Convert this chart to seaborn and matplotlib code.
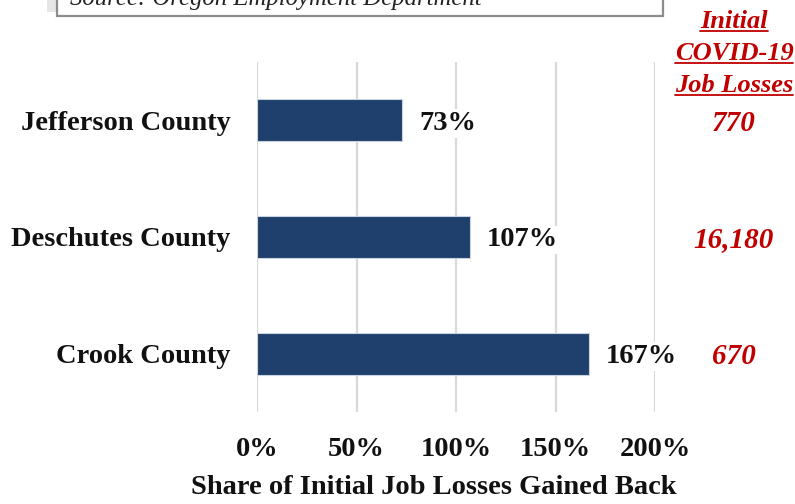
import matplotlib
matplotlib.use("Agg")
import matplotlib.pyplot as plt
import seaborn as sns
import pandas as pd
from matplotlib.patches import Rectangle
from matplotlib.lines import Line2D

counties = ["Jefferson County", "Deschutes County", "Crook County"]
share_gained_back = [73, 107, 167]
initial_losses = ["770", "16,180", "670"]
x_ticks = [0, 50, 100, 150, 200]
x_tick_labels = ["0%", "50%", "100%", "150%", "200%"]
header_lines = ["Initial", "COVID-19", "Job Losses"]
source_text = "Source: Oregon Employment Department"
x_label = "Share of Initial Job Losses Gained Back"

sns.set_theme(style="white")
plt.rcParams["font.family"] = ["Liberation Serif", "DejaVu Serif"]
plt.rcParams["font.weight"] = "bold"

W, H = 795, 504
fig = plt.figure(figsize=(W / 100, H / 100), dpi=100)
ax = fig.add_axes([257 / W, 1 - 412 / H, (655 - 257) / W, (412 - 62) / H])

df = pd.DataFrame({"county": counties, "share": share_gained_back})
sns.barplot(data=df, x="share", y="county", orient="h", color="#1f3f6c",
            width=0.36, edgecolor="#c9d3df", linewidth=0.8, ax=ax, zorder=3,
            saturation=1)

FS = 20.5
ax.set_xlim(0, 200)
ax.set_ylim(2.5, -0.5)
ax.set_xticks(x_ticks)
ax.set_xticklabels(x_tick_labels, fontsize=FS, fontweight="bold", color="#111111")
ax.tick_params(axis="x", length=0, pad=18)
ax.tick_params(axis="y", length=0, pad=19, labelsize=FS)
for t in ax.get_yticklabels():
    t.set_fontweight("bold")
    t.set_color("#111111")
ax.set_xlabel("")
ax.set_ylabel("")
for s in ax.spines.values():
    s.set_visible(False)
ax.grid(axis="x", color="#d9d9d9", linewidth=1.6, zorder=0)
ax.grid(axis="y", visible=False)
ax.set_axisbelow(True)

labels = [f"{v}%" for v in share_gained_back]
anns = ax.bar_label(ax.containers[0], labels=labels, padding=12, fontsize=FS,
                    fontweight="bold", color="#111111",
                    bbox=dict(facecolor="white", edgecolor="none", pad=1.5), zorder=4)
for a in anns:
    a.set_va("center_baseline")

# right-hand column of initial losses
for i, val in enumerate(initial_losses):
    ax.text((734 - 257) / (655 - 257), i, val, transform=ax.get_yaxis_transform(),
            ha="center", va="center_baseline", fontsize=21, fontweight="bold",
            fontstyle="italic", color="#c00000", clip_on=False)

# header with underline
header_base = [28, 60, 92]
header_texts = []
for line, yb in zip(header_lines, header_base):
    t = fig.text(734 / W, 1 - yb / H, line, ha="center", va="baseline",
                 fontsize=19, fontweight="bold", fontstyle="italic", color="#c00000")
    header_texts.append((t, yb))

# x label
fig.text(434 / W, 1 - 488 / H, x_label, ha="center", va="center",
         fontsize=FS, fontweight="bold", color="#111111")

# source box (cut off at top)
fig.patches.append(Rectangle((47 / W, 1 - 12 / H), 10 / W, 12 / H,
                             transform=fig.transFigure, facecolor="#e6e6e6",
                             edgecolor="none", zorder=1))
fig.patches.append(Rectangle((57 / W, 1 - 16 / H), (663 - 57) / W, 20 / H,
                             transform=fig.transFigure, facecolor="white",
                             edgecolor="#8c8c8c", linewidth=1.6, zorder=2))
fig.text(70 / W, 1 - 5 / H, source_text, ha="left", va="baseline",
         fontsize=17.8, fontstyle="italic", fontweight="normal", color="#222222",
         zorder=3)

fig.canvas.draw()
r = fig.canvas.get_renderer()
for t, yb in header_texts:
    bb = t.get_window_extent(r)
    y = 1 - (yb + 3) / H
    fig.lines.append(Line2D([bb.x0 / W, bb.x1 / W], [y, y], transform=fig.transFigure,
                            color="#c00000", linewidth=1.3))

fig.savefig("out.png", dpi=100)
